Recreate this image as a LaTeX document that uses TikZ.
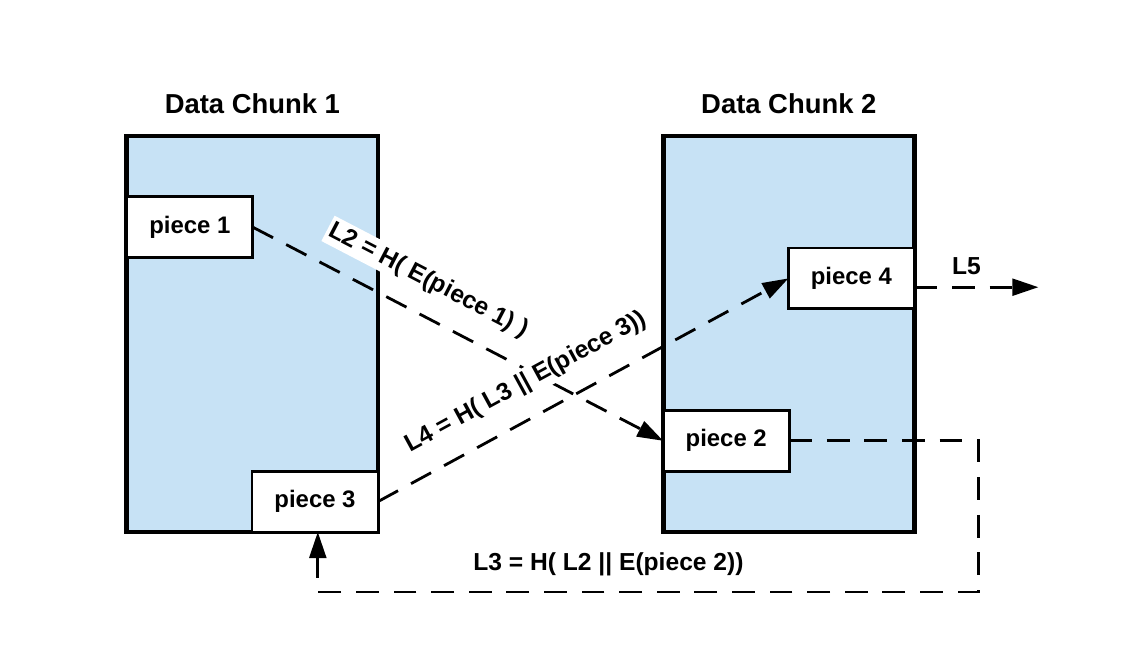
\documentclass[tikz,border=0pt]{standalone}
\usepackage{fontspec}
\setmainfont{Liberation Sans}
\usetikzlibrary{positioning,calc,arrows.meta}
\definecolor{chunkblue}{RGB}{199,226,245}
\tikzstyle{chunk} = [draw,line width=3.5pt,fill=chunkblue,outer sep=0pt,minimum width=6.28cm,minimum height=9.9cm]
\tikzstyle{piece} = [draw,line width=2pt,fill=white,outer sep=0pt,inner sep=0pt,minimum width=3.15cm,minimum height=1.52cm,font=\bfseries\fontsize{17}{20}\selectfont]
\tikzstyle{title} = [font=\bfseries\fontsize{19.5}{23}\selectfont]
\tikzstyle{lbl} = [font=\bfseries\fontsize{17.5}{21}\selectfont,inner sep=2pt]
\tikzstyle{link} = [line width=2pt,dash pattern=on 0.57cm off 0.37cm,-{Triangle[length=0.65cm,width=0.42cm]}]

\begin{document}
\begin{tikzpicture}[node distance=1cm]
  \useasboundingbox (0,0) rectangle (28.15,-16.15);
  \node[chunk] (chunk_1) at (6.31,-8.35) {};
  \node[chunk][right=7.13cm of chunk_1] (chunk_2) {};
  \node[title][above=0.43cm of chunk_1] (title_1) {Data Chunk 1};
  \node[title][above=0.43cm of chunk_2] (title_2) {Data Chunk 2};
  \node[piece][below right=1.52cm and 0cm of chunk_1.north west] (piece_1) {piece 1};
  \node[piece][above left=0cm and 0cm of chunk_1.south east] (piece_3) {piece 3};
  \node[piece][above right=1.52cm and 0cm of chunk_2.south west] (piece_2) {piece 2};
  \node[piece][below left=2.8cm and 0cm of chunk_2.north east] (piece_4) {piece 4};
  \coordinate[below=1.5cm of piece_3.south,xshift=0.07cm] (turn_b);
  \coordinate[right=4.73cm of piece_2.east] (turn_a);
  \coordinate[below=0.22cm of piece_4.east] (out_s);
  \coordinate[right=3.1cm of out_s] (out_e);
  \path[link]
  (piece_1.east) edge node[lbl,sloped,above=4.5mm,pos=0.39,fill=white] {L2 = H( E(piece 1) )} (piece_2.west)
  (piece_3.east) edge node[lbl,sloped,above=4.5mm,pos=0.4,fill=white] {L4 = H( L3 || E(piece 3))} (piece_4.west)
  (out_s) edge node[lbl,above=2mm,pos=0.42] {L5} (out_e);
  \draw[link] (piece_2.east) -- (turn_a) |- node[lbl,above=3mm,pos=0.78] {L3 = H( L2 || E(piece 2))} (turn_b) -- (turn_b |- piece_3.south);
\end{tikzpicture}
\end{document}
